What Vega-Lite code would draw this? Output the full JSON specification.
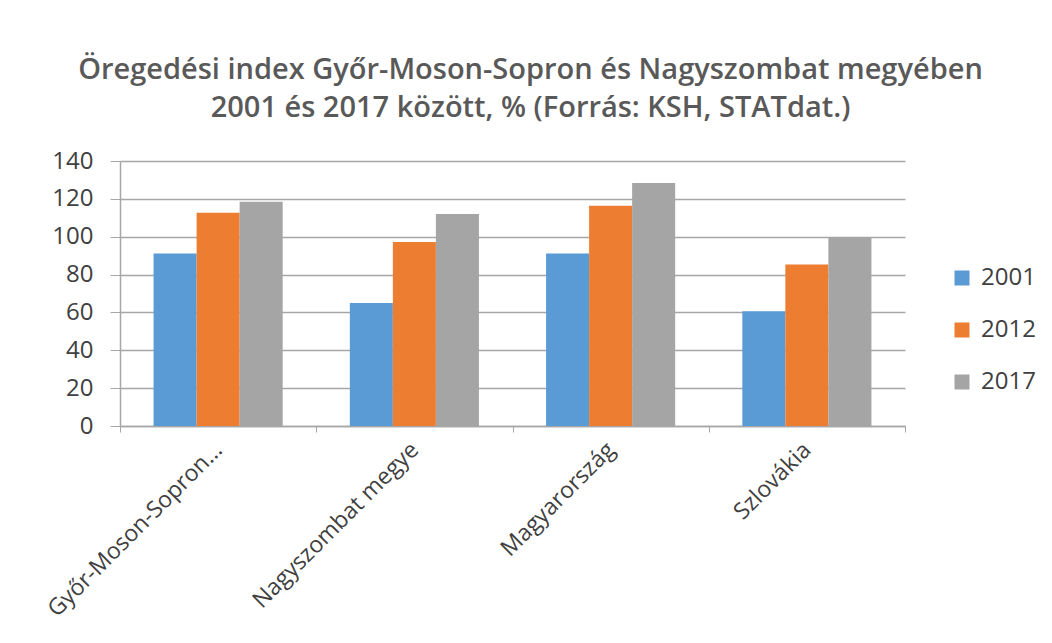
{
  "$schema": "https://vega.github.io/schema/vega-lite/v6.json",
  "autosize": "none",
  "width": 785,
  "height": 265,
  "padding": {"left": 120, "top": 161, "right": 147, "bottom": 217},
  "background": "white",
  "title": {
    "text": ["Öregedési index Győr-Moson-Sopron és Nagyszombat megyében", "2001 és 2017 között, % (Forrás: KSH, STATdat.)"],
    "font": "Open Sans",
    "fontSize": 29,
    "fontWeight": 600,
    "color": "#595959",
    "lineHeight": 38,
    "anchor": "middle",
    "dx": 18,
    "offset": 26
  },
  "data": {
    "values": [
      {"terulet": "Győr-Moson-Sopron...", "ev": "2001", "ertek": 91.1},
      {"terulet": "Győr-Moson-Sopron...", "ev": "2012", "ertek": 112.7},
      {"terulet": "Győr-Moson-Sopron...", "ev": "2017", "ertek": 118.5},
      {"terulet": "Nagyszombat megye", "ev": "2001", "ertek": 65.0},
      {"terulet": "Nagyszombat megye", "ev": "2012", "ertek": 97.2},
      {"terulet": "Nagyszombat megye", "ev": "2017", "ertek": 112.0},
      {"terulet": "Magyarország", "ev": "2001", "ertek": 91.1},
      {"terulet": "Magyarország", "ev": "2012", "ertek": 116.4},
      {"terulet": "Magyarország", "ev": "2017", "ertek": 128.4},
      {"terulet": "Szlovákia", "ev": "2001", "ertek": 60.6},
      {"terulet": "Szlovákia", "ev": "2012", "ertek": 85.3},
      {"terulet": "Szlovákia", "ev": "2017", "ertek": 99.7}
    ]
  },
  "mark": {"type": "bar"},
  "encoding": {
    "x": {
      "field": "terulet",
      "type": "nominal",
      "sort": null,
      "title": null,
      "scale": {"paddingInner": 0, "paddingOuter": 0},
      "axis": {
        "labelAngle": -45,
        "labelAlign": "right",
        "labelBaseline": "middle",
        "labelFont": "Open Sans",
        "labelFontSize": 23,
        "labelColor": "#404040",
        "labelPadding": 14,
        "labelLimit": 400,
        "tickBand": "extent",
        "tickSize": 6,
        "tickColor": "#a6a6a6",
        "domainColor": "#a6a6a6",
        "domainWidth": 1.5,
        "grid": false
      }
    },
    "xOffset": {"field": "ev", "type": "nominal", "scale": {"paddingInner": 0, "paddingOuter": 0.78}},
    "y": {
      "field": "ertek",
      "type": "quantitative",
      "title": null,
      "scale": {"domain": [0, 140], "nice": false},
      "axis": {
        "values": [0, 20, 40, 60, 80, 100, 120, 140],
        "labelFont": "Open Sans",
        "labelFontSize": 24,
        "labelColor": "#404040",
        "labelPadding": 17,
        "tickSize": 10,
        "tickColor": "#a6a6a6",
        "domainColor": "#a6a6a6",
        "domainWidth": 1.5,
        "gridColor": "#a6a6a6",
        "gridWidth": 1.5
      }
    },
    "color": {
      "field": "ev",
      "type": "nominal",
      "scale": {"domain": ["2001", "2012", "2017"], "range": ["#5B9BD5", "#ED7D31", "#A5A5A5"]},
      "legend": {
        "title": null,
        "orient": "none",
        "legendX": 830,
        "legendY": 105,
        "symbolType": "square",
        "symbolSize": 225,
        "symbolStrokeWidth": 0,
        "labelFont": "Open Sans",
        "labelFontSize": 24,
        "labelColor": "#404040",
        "labelOffset": 7,
        "rowPadding": 28
      }
    }
  },
  "config": {
    "view": {"stroke": null},
    "axis": {"gridOpacity": 1}
  }
}
